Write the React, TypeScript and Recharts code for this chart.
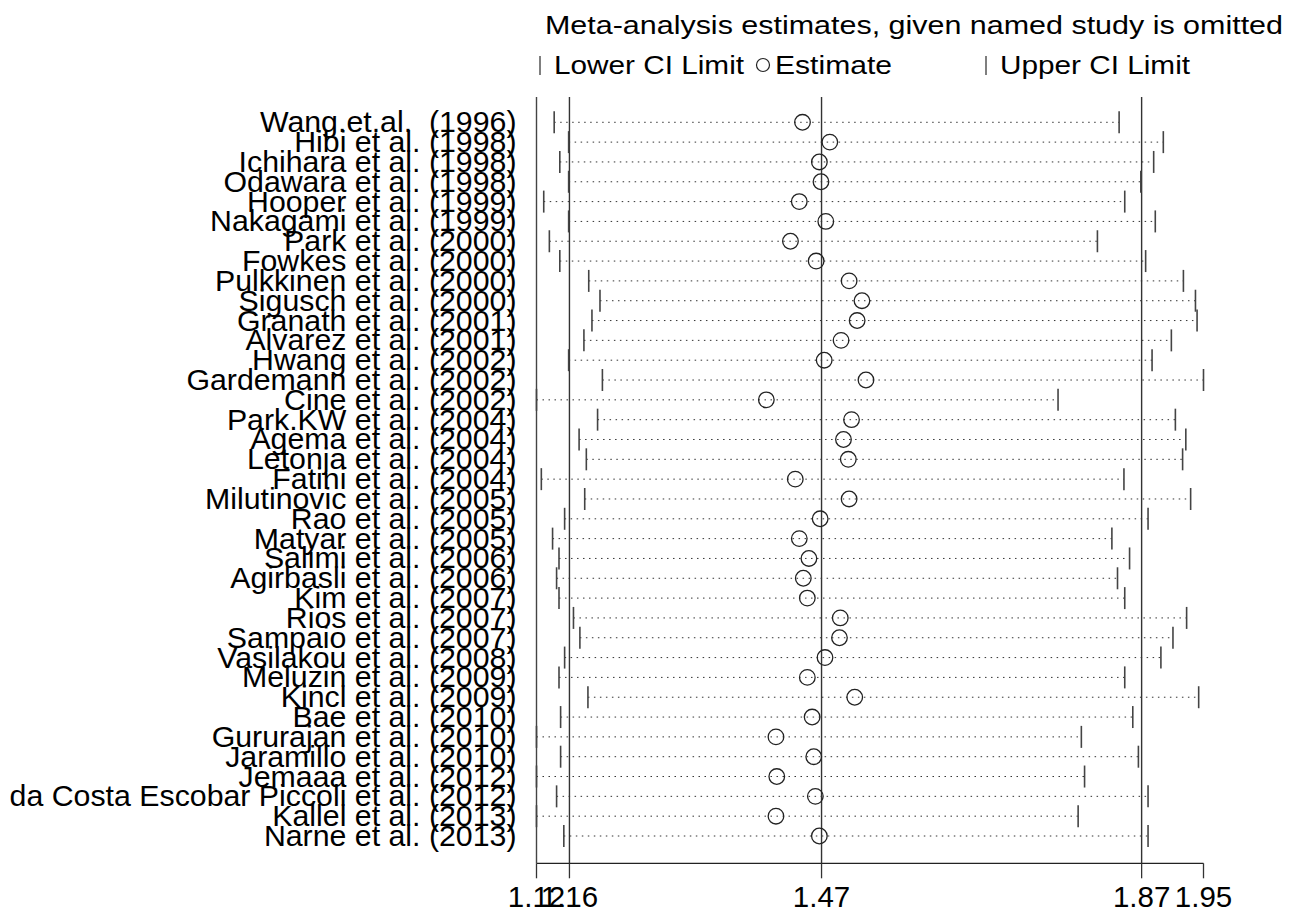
import React from 'react';
import { ScatterChart, Scatter, XAxis, YAxis, ReferenceLine } from 'recharts';

const studies = [
  'Wang.et.al.  (1996)', 'Hibi et al. (1998)', 'Ichihara et al. (1998)', 'Odawara et al. (1998)',
  'Hooper et al. (1999)', 'Nakagami et al. (1999)', 'Park et al. (2000)', 'Fowkes et al. (2000)',
  'Pulkkinen et al. (2000)', 'Sigusch et al. (2000)', 'Granath et al. (2001)', 'Alvarez et al. (2001)',
  'Hwang et al. (2002)', 'Gardemann et al. (2002)', 'Cine et al. (2002)', 'Park.KW et al. (2004)',
  'Agema et al. (2004)', 'Letonja et al. (2004)', 'Fatini et al. (2004)', 'Milutinovic et al. (2005)',
  'Rao et al. (2005)', 'Matyar et al. (2005)', 'Salimi et al. (2006)', 'Agirbasli et al. (2006)',
  'Kim et al. (2007)', 'Rios et al. (2007)', 'Sampaio et al. (2007)', 'Vasilakou et al. (2008)',
  'Meluzin et al. (2009)', 'Kincl et al. (2009)', 'Bae et al. (2010)', 'Gururajan et al. (2010)',
  'Jaramillo et al. (2010)', 'Jemaaa et al. (2012)', 'da Costa Escobar Piccoli et al. (2012)',
  'Kallel et al. (2013)', 'Narne et al. (2013)',
];

const lowerCI = [
  1.142, 1.160, 1.149, 1.160, 1.129, 1.160, 1.136, 1.149, 1.185, 1.199, 1.189, 1.179,
  1.160, 1.202, 1.120, 1.196, 1.173, 1.182, 1.126, 1.180, 1.155, 1.140, 1.148, 1.145,
  1.148, 1.166, 1.174, 1.155, 1.148, 1.184, 1.150, 1.120, 1.150, 1.120, 1.145, 1.120, 1.154,
];

const estimate = [
  1.451, 1.485, 1.472, 1.474, 1.447, 1.480, 1.436, 1.468, 1.509, 1.525, 1.519, 1.499,
  1.478, 1.530, 1.406, 1.512, 1.502, 1.508, 1.442, 1.509, 1.473, 1.447, 1.459, 1.452,
  1.457, 1.498, 1.497, 1.479, 1.457, 1.516, 1.463, 1.418, 1.465, 1.419, 1.467, 1.418, 1.472,
];

const upperCI = [
  1.845, 1.900, 1.888, 1.872, 1.852, 1.890, 1.818, 1.878, 1.925, 1.940, 1.942, 1.910,
  1.886, 1.950, 1.769, 1.915, 1.928, 1.924, 1.851, 1.934, 1.881, 1.836, 1.858, 1.843,
  1.852, 1.929, 1.912, 1.897, 1.852, 1.944, 1.862, 1.798, 1.869, 1.802, 1.881, 1.794, 1.881,
];

// overall lower CI, estimate, upper CI
const overallLines = [1.161, 1.4747, 1.873];
const xTicks = [1.12, 1.161, 1.4747, 1.873, 1.95];
const xTickLabels = ['1.12', '1.16', '1.47', '1.87', '1.95'];

const FONT = 'Arial, "Liberation Sans", sans-serif';
const n = studies.length;
const rowTicks = studies.map((_, i) => n - i);

const lowerData = lowerCI.map((v, i) => ({ x: v, y: n - i }));
const estData = estimate.map((v, i) => ({ x: v, y: n - i }));
const upperData = upperCI.map((v, i) => ({ x: v, y: n - i }));

const CiTick = (props: any) => (
  <line x1={props.cx} x2={props.cx} y1={props.cy - 11} y2={props.cy + 11} stroke="#444" strokeWidth={1.6} />
);

const EstCircle = (props: any) => (
  <circle cx={props.cx} cy={props.cy} r={7.8} fill="none" stroke="#222" strokeWidth={1.3} />
);

const StudyTick = ({ x, y, payload }: any) => (
  <text
    x={x}
    y={y}
    dy={10}
    textAnchor="end"
    fontSize={30.3}
    fontFamily={FONT}
    fill="#000"
    xmlSpace="preserve"
    style={{ whiteSpace: 'pre' }}
  >
    {studies[n - payload.value]}
  </text>
);

const ValueTick = ({ x, y, index }: any) => (
  <text x={x} y={y} dy={29} textAnchor="middle" fontSize={29.5} fontFamily={FONT} fill="#000">
    {xTickLabels[index]}
  </text>
);

export default function App() {
  return (
    <div style={{ position: 'absolute', left: 0, top: 0, width: 1292, height: 914, background: '#fff' }}>
      <ScatterChart width={1292} height={914} margin={{ top: 97, right: 88.5, bottom: 0, left: 0 }}>
        <XAxis
          type="number"
          dataKey="x"
          domain={[1.12, 1.95]}
          ticks={xTicks}
          interval={0}
          height={50.7}
          tickSize={15}
          tickMargin={0}
          tick={<ValueTick />}
          axisLine={{ stroke: '#222', strokeWidth: 1.3 }}
          tickLine={{ stroke: '#333', strokeWidth: 1.3 }}
        />
        <YAxis
          type="number"
          dataKey="y"
          domain={[-0.377, 38.276]}
          ticks={rowTicks}
          interval={0}
          width={536.5}
          tickSize={0}
          tickMargin={20}
          tick={<StudyTick />}
          axisLine={{ stroke: '#444', strokeWidth: 1.4 }}
          tickLine={false}
        />
        {studies.map((s, i) => (
          <ReferenceLine
            key={s}
            segment={[{ x: lowerCI[i], y: n - i }, { x: upperCI[i], y: n - i }]}
            stroke="#333"
            strokeWidth={1}
            strokeDasharray="1.5 4.5"
            ifOverflow="visible"
          />
        ))}
        {overallLines.map((v) => (
          <ReferenceLine key={v} x={v} stroke="#333" strokeWidth={1.4} />
        ))}
        <Scatter data={lowerData} shape={<CiTick />} isAnimationActive={false} />
        <Scatter data={upperData} shape={<CiTick />} isAnimationActive={false} />
        <Scatter data={estData} shape={<EstCircle />} isAnimationActive={false} />
      </ScatterChart>
      <svg
        width={1292}
        height={95}
        style={{ position: 'absolute', left: 0, top: 0, pointerEvents: 'none' }}
        fontFamily={FONT}
      >
        <text x={545} y={34} fontSize={26.5} textLength={738} lengthAdjust="spacingAndGlyphs" fill="#000">
          Meta-analysis estimates, given named study is omitted
        </text>
        <line x1={540} x2={540} y1={56} y2={75} stroke="#555" strokeWidth={1.5} />
        <text x={554} y={74} fontSize={26.5} textLength={190} lengthAdjust="spacingAndGlyphs" fill="#000">
          Lower CI Limit
        </text>
        <circle cx={763} cy={65} r={6.5} fill="none" stroke="#222" strokeWidth={1.2} />
        <text x={775} y={74} fontSize={26.5} textLength={117} lengthAdjust="spacingAndGlyphs" fill="#000">
          Estimate
        </text>
        <line x1={986} x2={986} y1={56} y2={75} stroke="#555" strokeWidth={1.5} />
        <text x={1000} y={74} fontSize={26.5} textLength={190} lengthAdjust="spacingAndGlyphs" fill="#000">
          Upper CI Limit
        </text>
      </svg>
    </div>
  );
}
